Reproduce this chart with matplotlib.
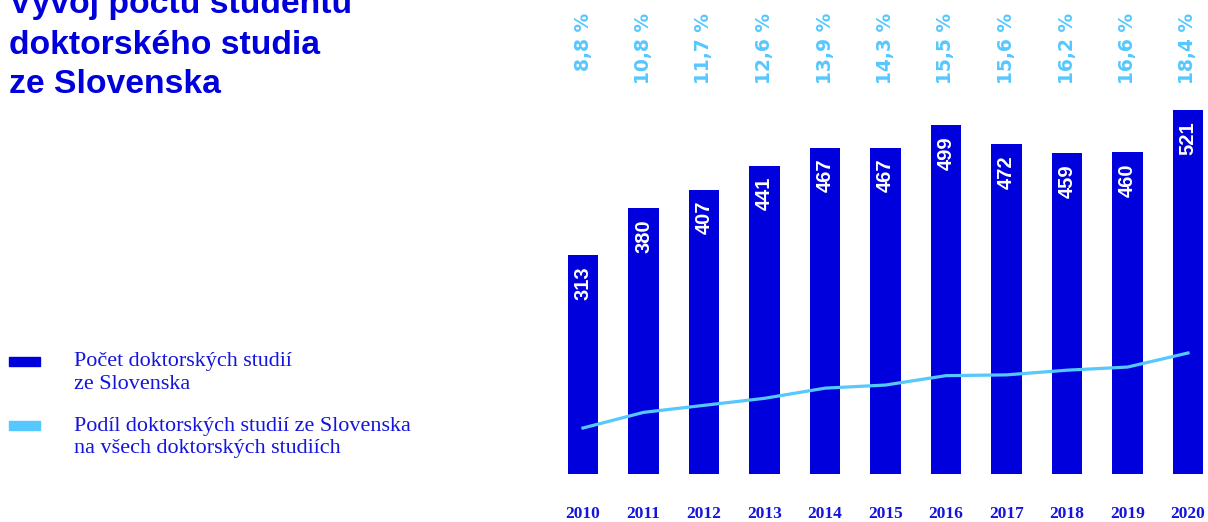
import matplotlib
matplotlib.use("Agg")
import matplotlib.pyplot as plt
from matplotlib.patches import Rectangle

years = ["2010", "2011", "2012", "2013", "2014", "2015", "2016", "2017", "2018", "2019", "2020"]
counts = [313, 380, 407, 441, 467, 467, 499, 472, 459, 460, 521]
shares = [8.8, 10.8, 11.7, 12.6, 13.9, 14.3, 15.5, 15.6, 16.2, 16.6, 18.4]
title_lines = ["Vývoj počtu studentů", "doktorského studia", "ze Slovenska"]
legend_bar = ["Počet doktorských studií", "ze Slovenska"]
legend_line = ["Podíl doktorských studií ze Slovenska", "na všech doktorských studiích"]

DARK = "#0000dc"
LIGHT = "#55c8ff"
TXT = "#1414dc"

W, H = 1208, 522
fig = plt.figure(figsize=(W / 100, H / 100), dpi=100)

base_px = 474
ax = fig.add_axes([552.75 / W, (H - base_px) / H, 653.4 / W, base_px / H])
ax.set_xlim(-0.5, 10.3)
ax.set_ylim(0, base_px / 0.699)
x = list(range(len(years)))
ax.bar(x, counts, width=0.51, color=DARK, zorder=1)
for s in ax.spines.values():
    s.set_visible(False)
ax.set_yticks([])
ax.set_xticks(x)
ax.set_xticklabels(years, fontfamily="Liberation Serif", fontweight="bold",
                   fontsize=12.5, color=TXT)
ax.tick_params(axis="x", length=0, pad=23)

for xi, v in zip(x, counts):
    ax.annotate(str(v), (xi, v), xytext=(0, -8), textcoords="offset points",
                rotation=90, ha="center", va="top", color="white",
                fontweight="bold", fontsize=14.5, fontfamily="Liberation Sans")

for xi, p in zip(x, shares):
    ax.text(xi, 1 - 13 / base_px, f"{p:.1f}".replace(".", ",") + " %",
            transform=ax.get_xaxis_transform(), rotation=90, ha="center",
            va="top", color=LIGHT, fontweight="bold", fontsize=13.5,
            fontfamily="DejaVu Sans")

ax2 = ax.twinx()
ax2.set_ylim(2.912, 2.912 + base_px * 0.128)
ax2.plot(x, shares, color=LIGHT, linewidth=2.3, zorder=3)
ax2.set_axis_off()

# Title
for line, yb in zip(title_lines, [13, 54, 93]):
    fig.text(9 / W, 1 - yb / H, line, ha="left", va="baseline",
             fontsize=24.3, fontweight="bold", color=DARK,
             fontfamily="Liberation Sans")

# Legend
fig.patches.append(Rectangle((9 / W, 1 - 366 / H), 31 / W, 9 / H,
                             transform=fig.transFigure, color=DARK))
fig.patches.append(Rectangle((9 / W, 1 - 430 / H), 31 / W, 9 / H,
                             transform=fig.transFigure, color=LIGHT))
for line, yb in zip(legend_bar + legend_line, [366, 389, 431, 453]):
    fig.text(74 / W, 1 - yb / H, line, ha="left", va="baseline",
             fontsize=15.9, color=TXT, fontfamily="Liberation Serif")

fig.savefig("out.png", dpi=100)
